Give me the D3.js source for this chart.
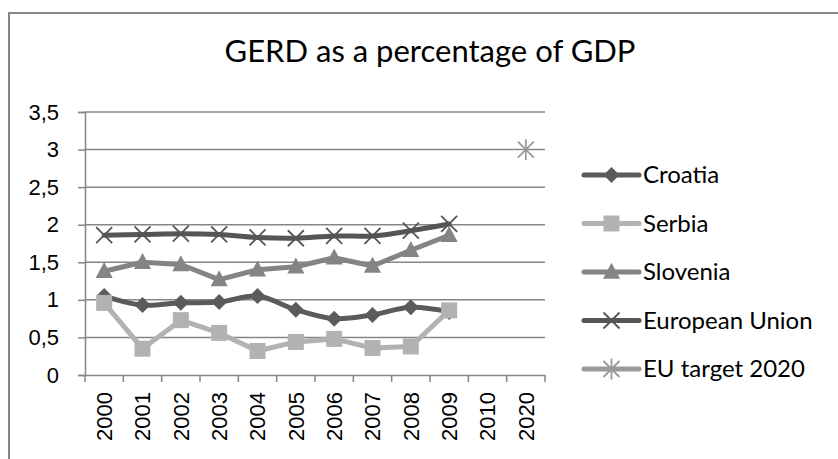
<!DOCTYPE html>
<html>
<head>
<meta charset="utf-8">
<script src="https://cdn.jsdelivr.net/npm/d3@7"></script>
<style>
  body { margin: 0; background: #fff; }
  svg { display: block; }
</style>
</head>
<body>
<div id="chart"></div>
<script>
// data
const years = ["2000", "2001", "2002", "2003", "2004", "2005", "2006", "2007", "2008", "2009", "2010", "2020"];
const croatia = [1.05, 0.93, 0.96, 0.97, 1.05, 0.87, 0.75, 0.80, 0.90, 0.84];
const serbia = [0.96, 0.35, 0.73, 0.56, 0.32, 0.44, 0.48, 0.36, 0.38, 0.86];
const slovenia = [1.38, 1.50, 1.47, 1.27, 1.40, 1.44, 1.56, 1.45, 1.66, 1.86];
const euUnion = [1.86, 1.87, 1.88, 1.87, 1.83, 1.82, 1.85, 1.85, 1.92, 2.01];
const euTarget = [3];
const yTicks = [0, 0.5, 1, 1.5, 2, 2.5, 3, 3.5];

const W = 838, H = 459;
const plot = { left: 85, right: 545, top: 112, bottom: 375 };

const series = [
  { name: "Croatia", values: croatia, start: 0, color: "#5b5b5b", marker: "diamond", smooth: true },
  { name: "Serbia", values: serbia, start: 0, color: "#b2b2b2", marker: "square", smooth: false },
  { name: "Slovenia", values: slovenia, start: 0, color: "#848484", marker: "triangle", smooth: false },
  { name: "European Union", values: euUnion, start: 0, color: "#555555", marker: "x", smooth: true },
  { name: "EU target 2020", values: euTarget, start: 11, color: "#9a9a9a", marker: "star", smooth: false }
];

const svg = d3.select("#chart").append("svg").attr("width", W).attr("height", H);

// outer border
svg.append("rect")
  .attr("x", 9).attr("y", 13).attr("width", 840).attr("height", 460)
  .attr("fill", "none").attr("stroke", "#868686").attr("stroke-width", 2);

svg.append("text")
  .attr("x", 430).attr("y", 62)
  .attr("text-anchor", "middle")
  .attr("font-family", "Lato, 'Open Sans', sans-serif")
  .attr("font-size", 31)
  .attr("fill", "#000")
  .text("GERD as a percentage of GDP");

const x = d3.scaleBand().domain(years).range([plot.left, plot.right]).paddingInner(0).paddingOuter(0);
const y = d3.scaleLinear().domain([0, 3.5]).range([plot.bottom, plot.top]);

// gridlines
svg.append("g").selectAll("line").data(yTicks.filter(d => d > 0)).join("line")
  .attr("x1", plot.left).attr("x2", plot.right)
  .attr("y1", d => y(d)).attr("y2", d => y(d))
  .attr("stroke", "#868686").attr("stroke-width", 1.5);

// y axis
const yAxis = svg.append("g")
  .attr("transform", `translate(${plot.left},0)`)
  .call(d3.axisLeft(y).tickValues(yTicks).tickSize(7).tickPadding(19)
    .tickFormat(d => String(d).replace(".", ",")));
yAxis.selectAll("path, line").attr("stroke", "#868686").attr("stroke-width", 1.5);
yAxis.selectAll("text").attr("font-family", "Arial, 'Liberation Sans', sans-serif")
  .attr("font-size", 22).attr("fill", "#000");

// x axis
const xAxis = svg.append("g")
  .attr("transform", `translate(0,${plot.bottom})`)
  .call(d3.axisBottom(x).tickSize(0).tickSizeOuter(0));
xAxis.select(".domain").attr("stroke", "#868686").attr("stroke-width", 1.5);
xAxis.selectAll("text")
  .attr("font-family", "Arial, 'Liberation Sans', sans-serif")
  .attr("font-size", 22).attr("fill", "#000")
  .attr("transform", "rotate(-90)")
  .attr("text-anchor", "end")
  .attr("x", -17).attr("y", 0).attr("dy", "0.35em");
// category boundary ticks
svg.append("g").selectAll("line")
  .data(years.map(d => x(d)).concat([plot.right]))
  .join("line")
  .attr("x1", d => d).attr("x2", d => d)
  .attr("y1", plot.bottom).attr("y2", plot.bottom + 7)
  .attr("stroke", "#868686").attr("stroke-width", 1.5);

const cx = i => x(years[i]) + x.bandwidth() / 2;

function markerPath(type, s) {
  switch (type) {
    case "diamond": return `M0,${-s}L${s},0L0,${s}L${-s},0Z`;
    case "square": return `M${-s},${-s}H${s}V${s}H${-s}Z`;
    case "triangle": return `M0,${-s * 1.1}L${s},${s * 0.8}L${-s},${s * 0.8}Z`;
    case "x": return `M${-s},${-s}L${s},${s}M${-s},${s}L${s},${-s}`;
    case "star": return `M${-s},${-s}L${s},${s}M${-s},${s}L${s},${-s}M0,${-s * 1.3}V${s * 1.3}`;
  }
}
const markerSize = { diamond: 8, square: 8, triangle: 8.5, x: 8, star: 8 };
const isStroke = t => t === "x" || t === "star";

series.forEach(s => {
  const pts = s.values.map((v, i) => [cx(s.start + i), y(v)]);
  if (pts.length > 1) {
    const line = d3.line().curve(s.smooth ? d3.curveCatmullRom.alpha(0) : d3.curveLinear);
    svg.append("path")
      .attr("d", line(pts))
      .attr("fill", "none")
      .attr("stroke", s.color)
      .attr("stroke-width", 5)
      .attr("stroke-linejoin", "round")
      .attr("stroke-linecap", "round");
  }
  svg.append("g").selectAll("path").data(pts).join("path")
    .attr("transform", d => `translate(${d[0]},${d[1]})`)
    .attr("d", markerPath(s.marker, markerSize[s.marker]))
    .attr("fill", isStroke(s.marker) ? "none" : s.color)
    .attr("stroke", s.color)
    .attr("stroke-width", isStroke(s.marker) ? 1.8 : 0);
});

// legend
const legend = svg.append("g");
series.forEach((s, i) => {
  const ly = 175 + i * 48.5;
  const g = legend.append("g").attr("transform", `translate(0,${ly})`);
  g.append("line")
    .attr("x1", 584).attr("x2", 639)
    .attr("stroke", s.color).attr("stroke-width", 5).attr("stroke-linecap", "round");
  g.append("path")
    .attr("transform", "translate(611.5,0)")
    .attr("d", markerPath(s.marker, markerSize[s.marker]))
    .attr("fill", isStroke(s.marker) ? "none" : s.color)
    .attr("stroke", s.color)
    .attr("stroke-width", isStroke(s.marker) ? 1.8 : 0);
  g.append("text")
    .attr("x", 643).attr("y", 0).attr("dy", "0.35em")
    .attr("font-family", "Lato, 'Open Sans', sans-serif")
    .attr("font-size", 24)
    .attr("fill", "#000")
    .text(s.name);
});
</script>
</body>
</html>
